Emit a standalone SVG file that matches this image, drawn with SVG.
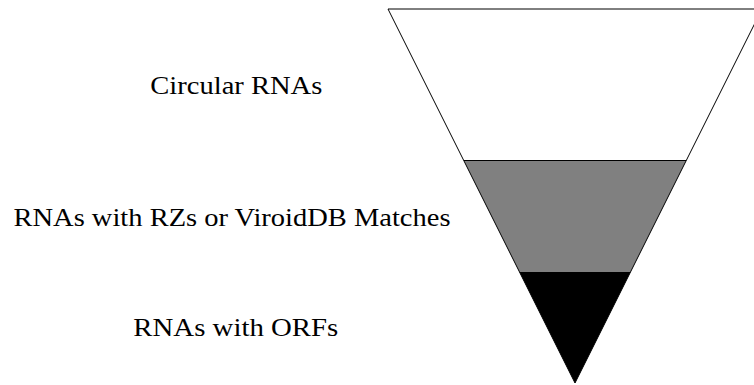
<svg xmlns="http://www.w3.org/2000/svg" width="754" height="385" viewBox="0 0 754 385">
<style>
  .lbl { font-family: "Liberation Serif", "DejaVu Serif", serif; font-size: 26px; fill: #000; }
  .band { stroke: #000; stroke-width: 1; stroke-linejoin: miter; }
</style>
<rect width="754" height="385" fill="#fff"/>
<g id="funnel">
  <g id="top-band"><polygon class="band" points="388,9 762,9 686.25,160.5 463.75,160.5" fill="#fff"/></g>
  <g id="middle-band"><polygon class="band" points="463.75,160.5 686.25,160.5 630.25,272.5 519.75,272.5" fill="#808080"/></g>
  <g id="bottom-band"><polygon class="band" points="519.75,272.5 630.25,272.5 575,383" fill="#000"/></g>
</g>
<g id="connectors"></g>
<g id="label-circular"><text class="lbl" x="236.3" y="94" text-anchor="middle" textLength="172" lengthAdjust="spacingAndGlyphs">Circular RNAs</text></g>
<g id="label-rz"><text class="lbl" x="232" y="226" text-anchor="middle" textLength="437" lengthAdjust="spacingAndGlyphs">RNAs with RZs or ViroidDB Matches</text></g>
<g id="label-orf"><text class="lbl" x="235.8" y="336" text-anchor="middle" textLength="205" lengthAdjust="spacingAndGlyphs">RNAs with ORFs</text></g>
</svg>
